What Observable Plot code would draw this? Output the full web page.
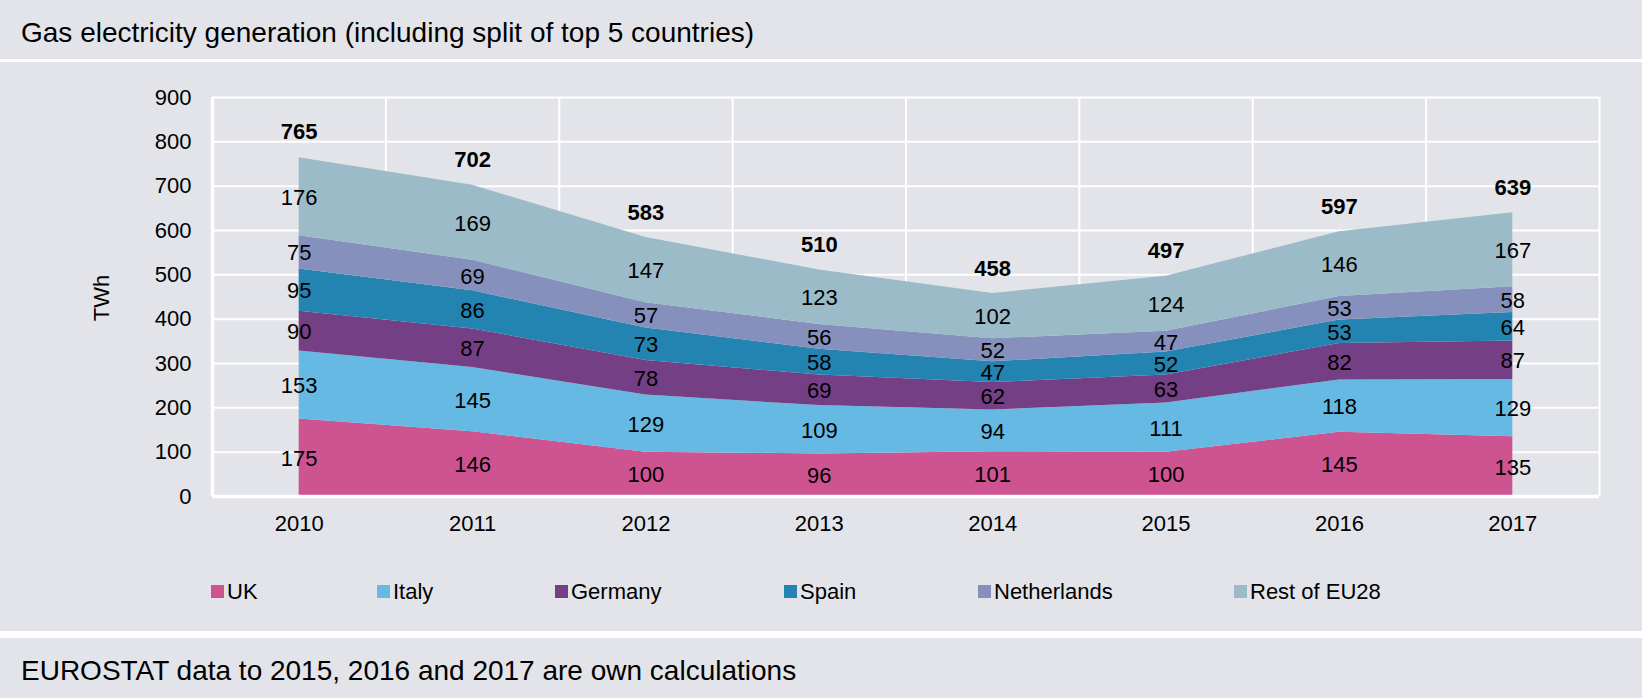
<!DOCTYPE html>
<html>
<head>
<meta charset="utf-8">
<script src="https://cdn.jsdelivr.net/npm/d3@7"></script>
<script src="https://cdn.jsdelivr.net/npm/@observablehq/plot@0.6"></script>
<style>
  body { margin:0; background:#ffffff; width:1642px; height:698px; position:relative; overflow:hidden;
         font-family:"Liberation Sans", Arial, Helvetica, sans-serif; color:#000; }
  .panel { position:absolute; left:0; width:1642px; background:#e3e4e9; }
  .bigtext { position:absolute; left:21px; top:18.5px; font-size:28px; line-height:28px; white-space:nowrap; }
  .leg { position:absolute; font-size:22px; line-height:22px; white-space:nowrap; }
  .sw { position:absolute; width:13px; height:13px; }
  #ylabel { position:absolute; left:102px; top:236px; font-size:22px; line-height:22px;
            transform:translate(-50%,-50%) rotate(-90deg); white-space:nowrap; }
  #chart svg { position:absolute; left:0; top:0; }
</style>
</head>
<body>
<div class="panel" style="top:0;height:59px"><div class="bigtext">Gas electricity generation (including split of top 5 countries)</div></div>
<div class="panel" id="chart" style="top:62px;height:569px"><div id="ylabel">TWh</div></div>
<div class="panel" style="top:638px;height:60px"><div class="bigtext">EUROSTAT data to 2015, 2016 and 2017 are own calculations</div></div>
<script>
// ---- data ----
const years = [2010, 2011, 2012, 2013, 2014, 2015, 2016, 2017];
const seriesNames = ["UK", "Italy", "Germany", "Spain", "Netherlands", "Rest of EU28"];
const uk          = [175, 146, 100,  96, 101, 100, 145, 135];
const italy       = [153, 145, 129, 109,  94, 111, 118, 129];
const germany     = [ 90,  87,  78,  69,  62,  63,  82,  87];
const spain       = [ 95,  86,  73,  58,  47,  52,  53,  64];
const netherlands = [ 75,  69,  57,  56,  52,  47,  53,  58];
const restEU      = [176, 169, 147, 123, 102, 124, 146, 167];
const totals      = [765, 702, 583, 510, 458, 497, 597, 639];
const yTicks = [0, 100, 200, 300, 400, 500, 600, 700, 800, 900];
const colors = ["#cd5391", "#66b9e3", "#743f84", "#2384b1", "#8591bc", "#9bbbc8"];

// legend layout (pixel x of each swatch inside the panel)
const legendX = [211, 377, 555, 784, 978, 1234];

const seriesValues = [uk, italy, germany, spain, netherlands, restEU];
const long = [];
seriesNames.forEach((s, i) => years.forEach((y, j) => long.push({series: s, year: y, value: seriesValues[i][j]})));
const totalsData = years.map((y, j) => ({year: y, total: totals[j]}));
const gridX = years.map(y => y - 0.5).concat([years[years.length - 1] + 0.5]);

const font = '"Liberation Sans", Arial, Helvetica, sans-serif';

const plot = Plot.plot({
  width: 1642,
  height: 569,
  marginLeft: 212,
  marginRight: 43,
  marginTop: 35,
  marginBottom: 135,
  style: {background: "transparent", color: "#000", fontFamily: font, fontSize: "22px"},
  x: {domain: [years[0] - 0.5, years[years.length - 1] + 0.5], ticks: years, tickFormat: d => String(d),
      tickSize: 0, tickPadding: 19, label: null},
  y: {domain: [0, 900], ticks: yTicks, tickSize: 0, tickPadding: 21, label: null},
  color: {domain: seriesNames, range: colors},
  marks: [
    Plot.ruleY(yTicks.filter(t => t > 0), {stroke: "#ffffff", strokeWidth: 2}),
    Plot.ruleX(gridX.slice(1), {stroke: "#ffffff", strokeWidth: 2}),
    Plot.areaY(long, {x: "year", y: "value", fill: "series", order: seriesNames}),
    Plot.ruleY([0], {stroke: "#ffffff", strokeWidth: 3.5}),
    Plot.ruleX(gridX.slice(0, 1), {stroke: "#ffffff", strokeWidth: 3.5}),
    Plot.text(long, Plot.stackY({x: "year", y: "value", z: "series", order: seriesNames,
      text: d => String(d.value), fill: "#000", fontSize: 22, dy: 1})),
    Plot.text(totalsData, {x: "year", y: "total", text: d => String(d.total), dy: -25,
      fontWeight: "bold", fill: "#000", fontSize: 22})
  ]
});
const chart = document.getElementById("chart");
chart.appendChild(plot);

// legend
seriesNames.forEach((s, i) => {
  const sw = document.createElement("div");
  sw.className = "sw";
  sw.style.left = legendX[i] + "px";
  sw.style.top = "523px";
  sw.style.background = colors[i];
  chart.appendChild(sw);
  const t = document.createElement("div");
  t.className = "leg";
  t.style.left = (legendX[i] + 16) + "px";
  t.style.top = "519px";
  t.textContent = s;
  chart.appendChild(t);
});
</script>
</body>
</html>
